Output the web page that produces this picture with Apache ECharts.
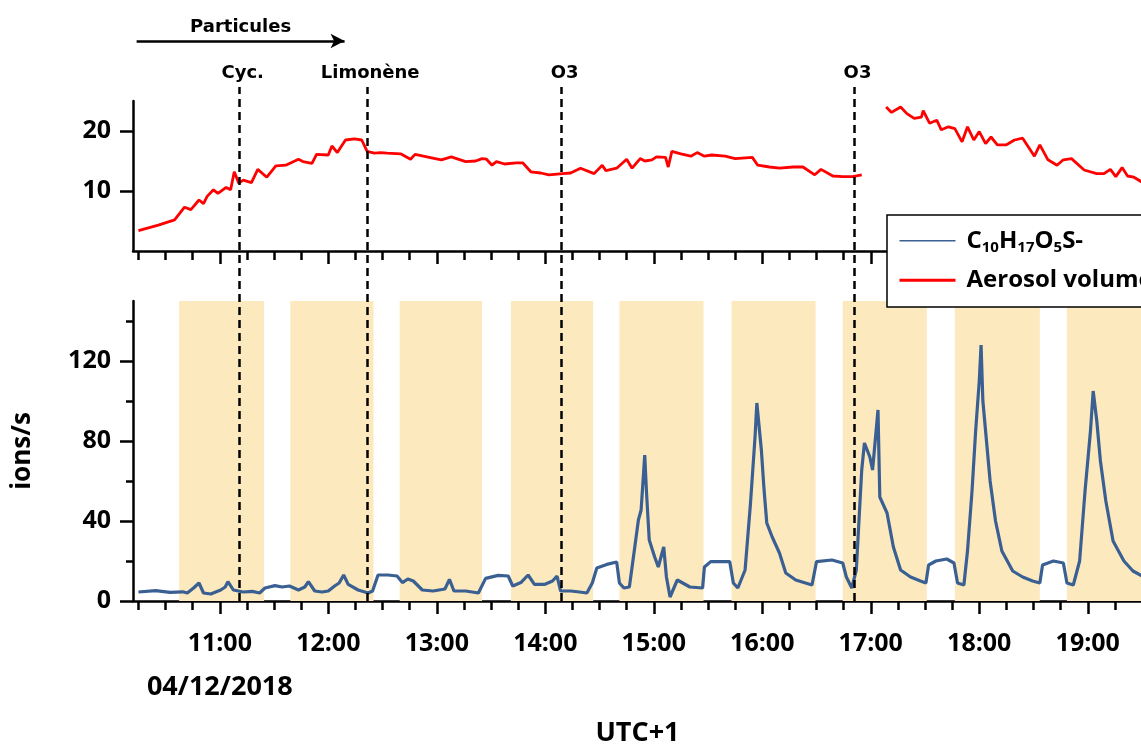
<!DOCTYPE html>
<html><head><meta charset="utf-8">
<script src="https://cdn.jsdelivr.net/npm/echarts@6/dist/echarts.min.js"></script>
<style>html,body{margin:0;padding:0;background:#fff}#c{width:1141px;height:745px}</style>
</head><body><div id="c"></div>
<script>
// ---------- data ----------
const hourTickLabels = ['11:00','12:00','13:00','14:00','15:00','16:00','17:00','18:00','19:00'];
const dateLabel = '04/12/2018';
const xAxisName = 'UTC+1';
const yAxisName = 'ions/s';
const ionName = 'C10H17O5S-';
const aerosolName = 'Aerosol volume';

const aerosolTimes = ['10:15','10:26','10:35','10:40.5','10:44','10:48.5','10:51','10:53','10:56.5','10:59','11:03.5','11:06','11:08','11:10.5','11:13','11:17.5','11:21','11:26','11:31','11:36.5','11:43.5','11:46','11:51','11:53.5','12:00','12:02','12:05','12:09.5','12:14.5','12:18.5','12:21.5','12:25.5','12:29','12:32.5','12:40','12:45.5','12:48','12:54.5','13:02.5','13:08','13:16','13:21.5','13:25','13:27.5','13:30.5','13:33','13:37.5','13:44','13:47.5','13:52','13:57.5','14:02','14:09.5','14:14','14:19.5','14:27','14:31.5','14:33.5','14:39.5','14:45','14:48','14:52.5','14:55','14:59','15:01.5','15:06.5','15:08','15:10','15:15','15:20.5','15:24','15:28','15:32','15:39.5','15:45','15:54.5','15:57.5','16:04','16:09.5','16:17','16:22.5','16:29','16:32.5','16:39','16:44.5','16:50','16:55','17:02','17:08.5','17:11.5','17:16.5','17:20','17:24','17:28','17:29','17:32.5','17:36.5','17:39','17:43','17:46.5','17:50.5','17:53.5','17:57','18:00','18:03.5','18:06.5','18:10','18:15','18:19.5','18:24','18:27','18:30.5','18:33.5','18:38','18:43','18:46.5','18:51','18:58','19:05','19:09','19:12.5','19:15.5','19:19','19:22','19:25.5','19:31'];
const aerosolValues = [3.4,4.3,5.2,7.3,6.9,8.5,7.9,9.1,10.2,9.6,10.6,10.2,13.2,11.3,11.8,11.4,13.6,12.3,14.2,14.3,15.3,14.9,14.6,16.1,16.0,17.5,16.4,18.5,18.7,18.5,16.6,16.3,16.4,16.3,16.2,15.3,16.1,15.7,15.2,15.7,14.9,15.0,15.4,15.3,14.3,14.9,14.5,14.7,14.7,13.2,13.0,12.7,12.9,13.0,13.8,12.9,14.3,13.4,13.8,15.3,13.8,15.4,15.0,15.2,15.7,15.6,14.0,16.6,16.2,15.8,16.4,15.8,16.0,15.8,15.4,15.6,14.3,14.0,13.8,14.0,14.0,12.7,13.6,12.5,12.4,12.4,12.7,null,24.0,23.1,24.0,22.9,22.1,22.3,23.4,21.3,21.8,20.2,20.7,20.4,18.2,20.7,18.5,19.9,17.9,19.0,17.7,17.7,18.5,18.8,17.4,15.8,17.7,15.2,14.3,15.2,15.4,13.5,12.9,12.9,13.6,12.4,13.9,12.5,12.3,11.3];

const ionTimes = ['10:15','10:24.5','10:32.5','10:39.5','10:42','10:45.5','10:48.5','10:51','10:55','11:00.5','11:03','11:04.5','11:07.5','11:13','11:18','11:22','11:25','11:30.5','11:34.5','11:38.5','11:43.5','11:47','11:49','11:52.5','11:56.5','12:00','12:03.5','12:06','12:08.5','12:11','12:16.5','12:22','12:24.5','12:27.5','12:33','12:38','12:41','12:44','12:47','12:52','12:58','13:04.5','13:07','13:09.5','13:16','13:23','13:27','13:34','13:39.5','13:42','13:46.5','13:50.5','13:54','13:59.5','14:04','14:06.5','14:08.5','14:14','14:19','14:23','14:26','14:28.5','14:34','14:39.5','14:41','14:43.5','14:46.5','14:49.5','14:51.5','14:53','14:55','14:56','14:57.5','15:00.5','15:02.5','15:05.5','15:07','15:09','15:13','15:20','15:27','15:28','15:31.5','15:42','15:44','15:46.5','15:50.5','15:53.5','15:56','15:57','15:59.5','16:01','16:02.5','16:05.5','16:09.5','16:13','16:18.5','16:27.5','16:30','16:38.5','16:44.5','16:46.5','16:49.5','16:52','16:55','16:56.5','16:59.5','17:01','17:04','17:05','17:09','17:12.5','17:16.5','17:22','17:27.5','17:30.5','17:32','17:36','17:42','17:46','17:48','17:51.5','17:53.5','17:56','17:58','18:00','18:01','18:02','18:04','18:06','18:09','18:12.5','18:18.5','18:24','18:29.5','18:33.5','18:35','18:41','18:46.5','18:48.5','18:52','18:55.5','18:58.5','19:01.5','19:03','19:05','19:07','19:10','19:14','19:20','19:25','19:31'];
const ionValues = [4.5,5.2,4.3,4.6,4,6.5,9,4,3.5,5.5,7,9.7,5.5,4.5,4.8,4,6.5,7.7,7,7.5,5.5,7,9.7,5,4.5,5,7.5,9,13,8.3,5.5,4,5,13,13,12.5,9.2,11,10,5.5,5,6,10.8,5,5,4,11.3,12.8,12.5,7.5,9.2,13,8.3,8.3,10,12.5,5,5,4.5,4,9,16.5,18.3,19.5,9,6.5,7,27,40.5,45.5,73,54,30.5,22,17,27,12,2,10.5,7,6.5,17,19.7,19.7,9,6.5,15.5,49,82,99,75.5,55.5,39,32,24,14,10.5,8,19.7,20.5,19,12,6.5,15.5,65.5,79,72,65.5,95.5,52,44,27,15.5,12,10,9,18,20,21,19,9,8,25,55,85,110,128,100,80,60,40,25,15,12,10,9,18,20,19,9,8,20,55,85,105,90,70,50,30,20,15,12];

const bandStarts = ['10:37.5','11:39','12:39.5','13:41','14:41','15:43','16:44.5','17:46.5','18:48.5'];
const bandEnds   = ['11:24.5','12:25','13:25','14:26.5','15:27.5','16:29.5','17:31','18:33.5','19:35'];

const eventTimes  = ['11:11','12:21.5','14:09','16:51'];
const eventLabels = ['Cyc.','Limonène','O3','O3'];
const arrowStart = '10:14', arrowEnd = '12:09', arrowLabel = 'Particules';

const topTicks = [10, 20];
const bottomMajorTicks = [0, 40, 80, 120];
const bottomMinorTicks = [20, 60, 100, 140];

// ---------- helpers / layout ----------
function hrs(s){ const p = s.split(':'); return +p[0] + parseFloat(p[1]) / 60; }
const X_MIN = 10.2, X_MAX = 19.5, PX_PER_H = 108.5;
const GL = 133, GW = Math.round((X_MAX - X_MIN) * PX_PER_H);
const TOP_H = 150, BOT_H = 300, ANN_H = 560;
const EVENT_TOP = 514 / 560;
const F = '"Open Sans", "Noto Sans", sans-serif';
const FA = '"DejaVu Sans", sans-serif';
const BLACK = '#000';
const hourVals = hourTickLabels.map(hrs);
const quarterVals = [];
for (let q = 41; q * 0.25 < X_MAX; q++) { const v = q * 0.25; if (v % 1 !== 0) quarterVals.push(v); }

function xMajor(gi, labels) {
  const ax = {
    type: 'value', gridIndex: gi, min: X_MIN, max: X_MAX, position: 'bottom',
    axisLine: { onZero: false, lineStyle: { color: BLACK, width: 2.5 } },
    axisTick: { customValues: hourVals, length: 13, lineStyle: { color: BLACK, width: 2.5 } },
    splitLine: { show: false },
    axisLabel: { show: false }
  };
  if (labels) {
    ax.axisLabel = {
      show: true, customValues: hourVals, margin: 21.5,
      formatter: function (v) {
        const i = hourVals.findIndex(h => Math.abs(h - v) < 1e-6);
        if (i < 0) return '';
        let s = '{t|' + hourTickLabels[i] + '}';
        if (i === 0) s += '\n{d|' + dateLabel + '}';
        return s;
      },
      rich: {
        t: { fontFamily: F, fontWeight: 'bold', fontSize: 25, lineHeight: 43, color: BLACK },
        d: { fontFamily: F, fontWeight: 'bold', fontSize: 27, lineHeight: 43, color: BLACK }
      }
    };
    ax.name = xAxisName; ax.nameLocation = 'middle'; ax.nameGap = 132;
    ax.nameTextStyle = { fontFamily: F, fontWeight: 'bold', fontSize: 27, color: BLACK, verticalAlign: 'middle' };
  }
  return ax;
}
function xMinor(gi, h) {
  return {
    type: 'value', gridIndex: gi, min: X_MIN, max: X_MAX, position: 'top', offset: -h,
    axisLine: { show: false, onZero: false },
    axisTick: { inside: true, customValues: quarterVals, length: 9, lineStyle: { color: BLACK, width: 2.5 } },
    axisLabel: { show: false }, splitLine: { show: false }
  };
}
const yLabel = { fontFamily: F, fontWeight: 'bold', fontSize: 25, color: BLACK, margin: 22 };

const option = {
  animation: false,
  backgroundColor: '#fff',
  textStyle: { fontFamily: F },
  grid: [
    { left: GL, top: 101, width: GW, height: TOP_H, containLabel: false, outerBoundsMode: 'none' },
    { left: GL, top: 301, width: GW, height: BOT_H, containLabel: false, outerBoundsMode: 'none' },
    { left: GL, top: 41, width: GW, height: ANN_H, containLabel: false, outerBoundsMode: 'none' }
  ],
  xAxis: [
    xMajor(0, false), xMinor(0, TOP_H),
    xMajor(1, true), xMinor(1, BOT_H),
    { type: 'value', gridIndex: 2, min: X_MIN, max: X_MAX, show: false }
  ],
  yAxis: [
    { type: 'value', gridIndex: 0, min: 0, max: 25, position: 'left',
      axisLine: { show: true, onZero: false, lineStyle: { color: BLACK, width: 2.5 } },
      axisTick: { show: true, customValues: topTicks, length: 13, lineStyle: { color: BLACK, width: 2.5 } },
      axisLabel: Object.assign({ customValues: topTicks }, yLabel),
      splitLine: { show: false } },
    { type: 'value', gridIndex: 1, min: 0, max: 150, position: 'left',
      axisLine: { show: true, onZero: false, lineStyle: { color: BLACK, width: 2.5 } },
      axisTick: { show: true, customValues: bottomMajorTicks, length: 13, lineStyle: { color: BLACK, width: 2.5 } },
      axisLabel: Object.assign({ customValues: bottomMajorTicks }, yLabel),
      splitLine: { show: false },
      name: yAxisName, nameLocation: 'middle', nameGap: 110,
      nameTextStyle: { fontFamily: F, fontWeight: 'bold', fontSize: 26, color: BLACK, verticalAlign: 'middle' } },
    { type: 'value', gridIndex: 1, min: 0, max: 150, position: 'right', offset: -GW,
      axisLine: { show: false, onZero: false },
      axisTick: { show: true, inside: true, customValues: bottomMinorTicks, length: 7, lineStyle: { color: BLACK, width: 2.5 } },
      axisLabel: { show: false }, splitLine: { show: false } },
    { type: 'value', gridIndex: 2, min: 0, max: 1, show: false }
  ],
  legend: {
    orient: 'vertical', left: 887, top: 215, z: 20,
    padding: [10.7, 60, 11.8, 11], itemGap: 9.5, itemWidth: 56, itemHeight: 14,
    backgroundColor: '#fff', borderColor: BLACK, borderWidth: 1.5, borderRadius: 0,
    selectedMode: false,
    itemStyle: { opacity: 0, borderWidth: 0 },
    data: [
      { name: ionName, lineStyle: { width: 1.6, color: '#3a5f93' }, itemStyle: { opacity: 0, borderWidth: 0 } },
      { name: aerosolName, lineStyle: { width: 3, color: '#ff0000' }, itemStyle: { opacity: 0, borderWidth: 0 } }
    ],
    formatter: function (name) {
      if (name === ionName) return '{m|C}{s|10}{m|H}{s|17}{m|O}{s|5}{m|S-}';
      return '{m|' + name + '}';
    },
    textStyle: {
      fontFamily: F, fontWeight: 'bold', fontSize: 24, color: BLACK, lineHeight: 30, padding: [0, 0, 0, 6],
      rich: {
        m: { fontFamily: F, fontWeight: 'bold', fontSize: 24, color: BLACK, lineHeight: 30 },
        s: { fontFamily: F, fontWeight: 'bold', fontSize: 15, color: BLACK, lineHeight: 16, verticalAlign: 'bottom' }
      }
    }
  },
  series: [
    {
      name: aerosolName, type: 'line', xAxisIndex: 0, yAxisIndex: 0, symbol: 'none',
      color: '#ff0000', lineStyle: { color: '#ff0000', width: 2.8 }, connectNulls: false, z: 3,
      data: aerosolTimes.map((t, i) => [hrs(t), aerosolValues[i]])
    },
    {
      name: ionName, type: 'line', xAxisIndex: 2, yAxisIndex: 1, symbol: 'none',
      color: '#3a5f93', lineStyle: { color: '#3a5f93', width: 3.2 }, z: 3,
      data: ionTimes.map((t, i) => [hrs(t), ionValues[i]]),
      markArea: {
        silent: true,
        itemStyle: { color: '#fde9be', opacity: 1 },
        data: bandStarts.map((s, i) => [{ xAxis: hrs(s) }, { xAxis: hrs(bandEnds[i]) }])
      }
    },
    {
      name: 'annotations', type: 'line', xAxisIndex: 4, yAxisIndex: 3, data: [], z: 5,
      markLine: {
        silent: true, symbol: ['none', 'none'],
        lineStyle: { color: BLACK, width: 2.5, type: [8, 5] },
        label: { show: true, position: 'end', formatter: '{b}', fontFamily: FA, fontWeight: 'bold', fontSize: 18, color: BLACK, distance: 5, offset: [3, 0] },
        data: eventTimes.map((t, i) => [
          { coord: [hrs(t), 0], name: eventLabels[i] },
          { coord: [hrs(t), EVENT_TOP], name: eventLabels[i] }
        ]).concat([[
          { coord: [hrs(arrowStart), 1], name: arrowLabel, symbol: 'none',
            lineStyle: { color: BLACK, width: 2.5, type: 'solid' },
            label: { position: 'middle', offset: [0, 0] } },
          { coord: [hrs(arrowEnd), 1], name: arrowLabel, symbol: 'arrow', symbolSize: [11, 14],
            lineStyle: { color: BLACK, width: 2.5, type: 'solid' },
            label: { position: 'middle', offset: [0, 0] } }
        ]])
      }
    }
  ]
};
const chart = echarts.init(document.getElementById('c'), null, { renderer: 'canvas' });
chart.setOption(option);
</script>
</body></html>
